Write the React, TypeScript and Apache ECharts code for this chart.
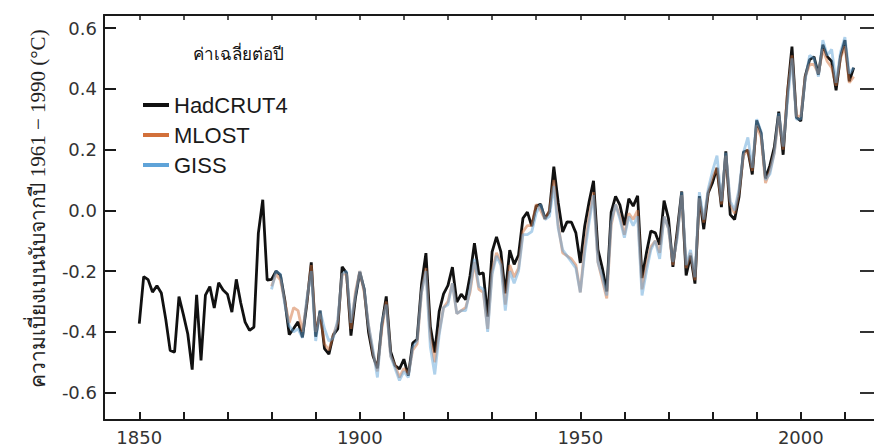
import React, { useEffect, useRef } from "react";
import * as echarts from "echarts";

const hadStart = 1850;
const otherStart = 1880;

const hadcrut4 = [
  -0.373, -0.218, -0.228, -0.269, -0.248, -0.272, -0.358, -0.461, -0.467, -0.284,
  -0.343, -0.407, -0.524, -0.278, -0.494, -0.279, -0.251, -0.321, -0.238, -0.262,
  -0.276, -0.335, -0.227, -0.304, -0.368, -0.395, -0.384, -0.075, 0.035, -0.230,
  -0.227, -0.200, -0.213, -0.296, -0.409, -0.389, -0.367, -0.418, -0.307, -0.171,
  -0.416, -0.330, -0.455, -0.473, -0.410, -0.390, -0.186, -0.206, -0.412, -0.289,
  -0.203, -0.259, -0.402, -0.479, -0.520, -0.377, -0.283, -0.465, -0.511, -0.522,
  -0.490, -0.544, -0.437, -0.424, -0.244, -0.141, -0.383, -0.468, -0.333, -0.275,
  -0.247, -0.187, -0.302, -0.276, -0.294, -0.215, -0.108, -0.210, -0.206, -0.350,
  -0.137, -0.087, -0.137, -0.273, -0.131, -0.178, -0.147, -0.026, -0.006, -0.052,
  0.014, 0.020, -0.027, -0.004, 0.144, 0.025, -0.071, -0.038, -0.039, -0.074,
  -0.173, -0.052, 0.028, 0.097, -0.129, -0.190, -0.267, -0.007, 0.046, 0.017,
  -0.049, 0.038, 0.014, 0.048, -0.223, -0.140, -0.068, -0.074, -0.113, 0.032,
  -0.027, -0.186, -0.065, 0.062, -0.214, -0.149, -0.241, 0.047, -0.062, 0.057,
  0.092, 0.140, 0.011, 0.194, -0.014, -0.030, 0.045, 0.192, 0.198, 0.118,
  0.296, 0.254, 0.105, 0.148, 0.208, 0.325, 0.183, 0.390, 0.539, 0.306,
  0.294, 0.441, 0.496, 0.505, 0.447, 0.545, 0.506, 0.491, 0.395, 0.506,
  0.560, 0.425, 0.470,
];

const mlost = [
  -0.25, -0.21, -0.23, -0.30, -0.37, -0.32, -0.33, -0.40, -0.30, -0.18,
  -0.40, -0.34, -0.44, -0.46, -0.41, -0.37, -0.21, -0.21, -0.39, -0.27,
  -0.20, -0.27, -0.38, -0.47, -0.53, -0.39, -0.30, -0.48, -0.51, -0.55,
  -0.52, -0.54, -0.46, -0.44, -0.27, -0.19, -0.42, -0.50, -0.40, -0.32,
  -0.30, -0.24, -0.34, -0.33, -0.32, -0.27, -0.17, -0.26, -0.27, -0.39,
  -0.20, -0.14, -0.17, -0.31, -0.18, -0.22, -0.19, -0.07, -0.05, -0.05,
  0.02, 0.00, -0.03, 0.00, 0.10, -0.05, -0.14, -0.15, -0.16, -0.18,
  -0.27, -0.12, -0.02, 0.06, -0.17, -0.23, -0.29, -0.05, 0.02, -0.02,
  -0.08, -0.01, -0.03, 0.00, -0.26, -0.18, -0.12, -0.10, -0.14, -0.02,
  -0.06, -0.18, -0.08, 0.05, -0.19, -0.14, -0.23, 0.04, -0.04, 0.06,
  0.11, 0.14, 0.02, 0.18, 0.02, -0.01, 0.06, 0.18, 0.20, 0.13,
  0.28, 0.24, 0.09, 0.13, 0.19, 0.31, 0.20, 0.39, 0.51, 0.31,
  0.31, 0.44, 0.48, 0.48, 0.45, 0.53, 0.49, 0.47, 0.41, 0.50,
  0.54, 0.42, 0.44,
];

const giss = [
  -0.26, -0.20, -0.21, -0.31, -0.38, -0.40, -0.39, -0.42, -0.29, -0.20,
  -0.43, -0.33, -0.39, -0.43, -0.42, -0.36, -0.21, -0.20, -0.37, -0.28,
  -0.20, -0.26, -0.38, -0.46, -0.55, -0.37, -0.31, -0.48, -0.52, -0.56,
  -0.53, -0.55, -0.45, -0.43, -0.27, -0.20, -0.45, -0.54, -0.41, -0.32,
  -0.31, -0.24, -0.34, -0.33, -0.33, -0.26, -0.16, -0.25, -0.26, -0.40,
  -0.21, -0.15, -0.18, -0.33, -0.20, -0.24, -0.20, -0.08, -0.08, -0.07,
  -0.01, 0.02, -0.03, -0.02, 0.08, -0.06, -0.13, -0.15, -0.17, -0.19,
  -0.27, -0.14, -0.04, 0.05, -0.17, -0.22, -0.28, -0.04, 0.02, -0.03,
  -0.09, -0.02, -0.05, -0.02, -0.28, -0.20, -0.13, -0.10, -0.16, -0.02,
  -0.06, -0.17, -0.09, 0.06, -0.18, -0.13, -0.22, 0.06, -0.03, 0.07,
  0.13, 0.18, 0.03, 0.19, 0.03, 0.00, 0.07, 0.19, 0.24, 0.14,
  0.30, 0.26, 0.10, 0.12, 0.19, 0.32, 0.21, 0.36, 0.50, 0.30,
  0.30, 0.43, 0.51, 0.50, 0.44, 0.56, 0.51, 0.53, 0.42, 0.52,
  0.57, 0.45, 0.47,
];

const xTickYears = [1850, 1860, 1870, 1880, 1890, 1900, 1910, 1920, 1930, 1940, 1950, 1960, 1970, 1980, 1990, 2000, 2010];
const xLabelYears = [1850, 1900, 1950, 2000];
const yTickValues = [-0.6, -0.4, -0.2, 0, 0.2, 0.4, 0.6];

const seriesNames = ["HadCRUT4", "MLOST", "GISS"];
const seriesColors = ["#111111", "#d2703a", "#5fa3d8"];

const yTitle = "ความเบี่ยงเบนนับจากปี 1961 − 1990 (°C)";
const subTitle = "ค่าเฉลี่ยต่อปี";

export default function App() {
  const ref = useRef<HTMLDivElement>(null);

  useEffect(() => {
    if (!ref.current) return;
    const chart = echarts.init(ref.current, undefined, { renderer: "svg" });
    const toPairs = (arr: number[], start: number) => arr.map((v, i) => [start + i, v]);
    const xMin = 1842;
    const xMax = 2016.6;
    const yMin = -0.69;
    const yMax = 0.643;
    const axisColor = "#1a1a1a";
    const labelFont = "DejaVu Sans, sans-serif";

    chart.setOption({
      animation: false,
      backgroundColor: "#ffffff",
      title: {
        text: subTitle,
        left: 188,
        top: 40,
        textStyle: { fontSize: 17, fontWeight: "normal", color: "#111", fontFamily: "Noto Sans, sans-serif" },
      },
      legend: {
        orient: "vertical",
        left: 138,
        top: 89,
        itemWidth: 26,
        itemHeight: 4,
        itemGap: 8,
        icon: "rect",
        textStyle: { fontSize: 22, color: "#1a1a1a", fontFamily: "Liberation Sans, Arial, sans-serif" },
        data: seriesNames.map((n, i) => ({ name: n, itemStyle: { color: seriesColors[i], opacity: 1 } })),
      },
      grid: { left: 104, right: 0, top: 15, bottom: 28 },
      xAxis: [
        {
          type: "value",
          min: xMin,
          max: xMax,
          position: "bottom",
          axisLine: { show: true, onZero: false, lineStyle: { color: axisColor, width: 2 } },
          axisTick: { show: true, inside: true, length: 8, customValues: xTickYears, lineStyle: { color: axisColor, width: 2 } },
          axisLabel: {
            customValues: xLabelYears,
            fontSize: 18,
            color: "#333",
            margin: 8,
            fontFamily: labelFont,
            formatter: (v: number) => String(v),
          },
          splitLine: { show: false },
        },
        {
          type: "value",
          min: xMin,
          max: xMax,
          position: "top",
          axisLine: { show: true, onZero: false, lineStyle: { color: axisColor, width: 2 } },
          axisTick: { show: true, inside: true, length: 5, customValues: xTickYears, lineStyle: { color: axisColor, width: 1.5 } },
          axisLabel: { show: false },
          splitLine: { show: false },
        },
      ],
      yAxis: [
        {
          type: "value",
          min: yMin,
          max: yMax,
          position: "left",
          name: yTitle,
          nameLocation: "middle",
          nameRotate: 90,
          nameGap: 56,
          nameTextStyle: { fontSize: 21, color: "#222", fontFamily: "Liberation Serif, serif", padding: [0, 0, 0, 18] },
          axisLine: { show: true, onZero: false, lineStyle: { color: axisColor, width: 2 } },
          axisTick: { show: true, inside: true, length: 12, customValues: yTickValues, lineStyle: { color: axisColor, width: 2 } },
          axisLabel: {
            customValues: yTickValues,
            fontSize: 18,
            color: "#333",
            margin: 7,
            fontFamily: labelFont,
            formatter: (v: number) => v.toFixed(1),
          },
          splitLine: { show: false },
        },
        {
          type: "value",
          min: yMin,
          max: yMax,
          position: "right",
          axisLine: { show: false, onZero: false },
          axisTick: { show: true, inside: true, length: 14, customValues: yTickValues, lineStyle: { color: "#333", width: 2 } },
          axisLabel: { show: false },
          splitLine: { show: false },
        },
      ],
      series: [
        {
          name: seriesNames[0],
          type: "line",
          data: toPairs(hadcrut4, hadStart),
          showSymbol: false,
          color: seriesColors[0],
          lineStyle: { color: seriesColors[0], width: 2.8 },
          z: 2,
        },
        {
          name: seriesNames[1],
          type: "line",
          data: toPairs(mlost, otherStart),
          showSymbol: false,
          color: seriesColors[1],
          lineStyle: { color: seriesColors[1], width: 2.8, opacity: 0.5 },
          z: 3,
        },
        {
          name: seriesNames[2],
          type: "line",
          data: toPairs(giss, otherStart),
          showSymbol: false,
          color: seriesColors[2],
          lineStyle: { color: seriesColors[2], width: 2.8, opacity: 0.5 },
          z: 4,
        },
      ],
    });
    return () => chart.dispose();
  }, []);

  return (
    <div
      ref={ref}
      style={{ position: "fixed", left: 0, top: 0, width: 874, height: 448 }}
    />
  );
}
